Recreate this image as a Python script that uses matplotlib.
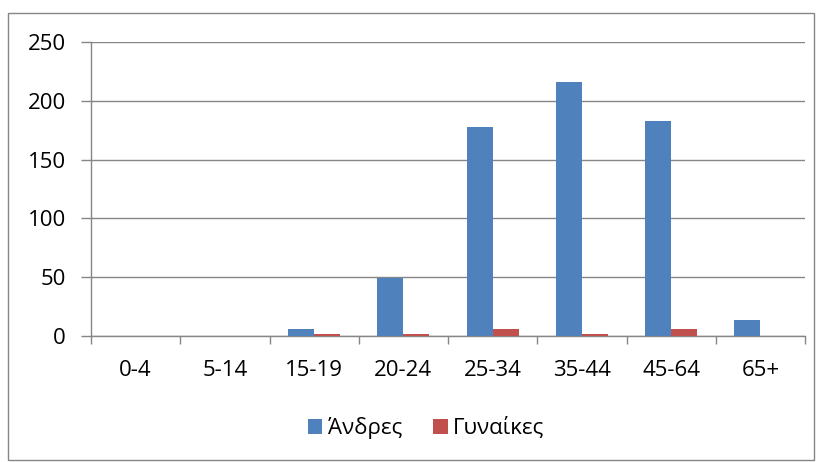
import numpy as np
import matplotlib.pyplot as plt
from matplotlib.patches import Rectangle

categories = ["0-4", "5-14", "15-19", "20-24", "25-34", "35-44", "45-64", "65+"]
men = [0, 0, 6, 49, 178, 216, 183, 14]
women = [0, 0, 2, 2, 6, 2, 6, 0]
series_names = ["Άνδρες", "Γυναίκες"]
yticks = [0, 50, 100, 150, 200, 250]

plt.rcParams['font.family'] = ['Open Sans', 'DejaVu Sans']
grey = "#868686"

fig = plt.figure(figsize=(8.19, 4.62), dpi=100)
ax = fig.add_axes([91 / 819, 1 - 336 / 462, 714 / 819, 294 / 462])

# outer chart border
fig.add_artist(Rectangle((8 / 819, 2 / 462), 806 / 819, 447 / 462, transform=fig.transFigure,
                         fill=False, edgecolor=grey, linewidth=1))

x = np.arange(len(categories))
w = 0.29
ax.bar(x - w / 2, men, w, color="#4F81BD", label=series_names[0], zorder=3)
ax.bar(x + w / 2, women, w, color="#C0504D", label=series_names[1], zorder=3)

ax.set_xlim(-0.5, len(categories) - 0.5)
ax.set_ylim(0, 250)
ax.set_yticks(yticks)
ax.yaxis.grid(True, color=grey, linewidth=1, zorder=0)
ax.set_xticks(x)
ax.set_xticklabels(categories)
ax.set_xticks(np.arange(len(categories) + 1) - 0.5, minor=True)

for s in ["top", "right"]:
    ax.spines[s].set_visible(False)
for s in ["left", "bottom"]:
    ax.spines[s].set_color(grey)
    ax.spines[s].set_linewidth(1)

ax.tick_params(axis="x", which="major", length=0, labelsize=16, pad=17)
ax.tick_params(axis="x", which="minor", length=6, color=grey, width=1)
ax.tick_params(axis="y", length=7, color=grey, width=1, labelsize=16, pad=11)

ax.legend(loc="center", bbox_to_anchor=(426 / 819, 1 - 428 / 462), bbox_transform=fig.transFigure,
          ncol=2, frameon=False, fontsize=16, handlelength=0.65, handleheight=0.65,
          handletextpad=0.25, columnspacing=1.4)

fig.savefig("out.png", dpi=100)
